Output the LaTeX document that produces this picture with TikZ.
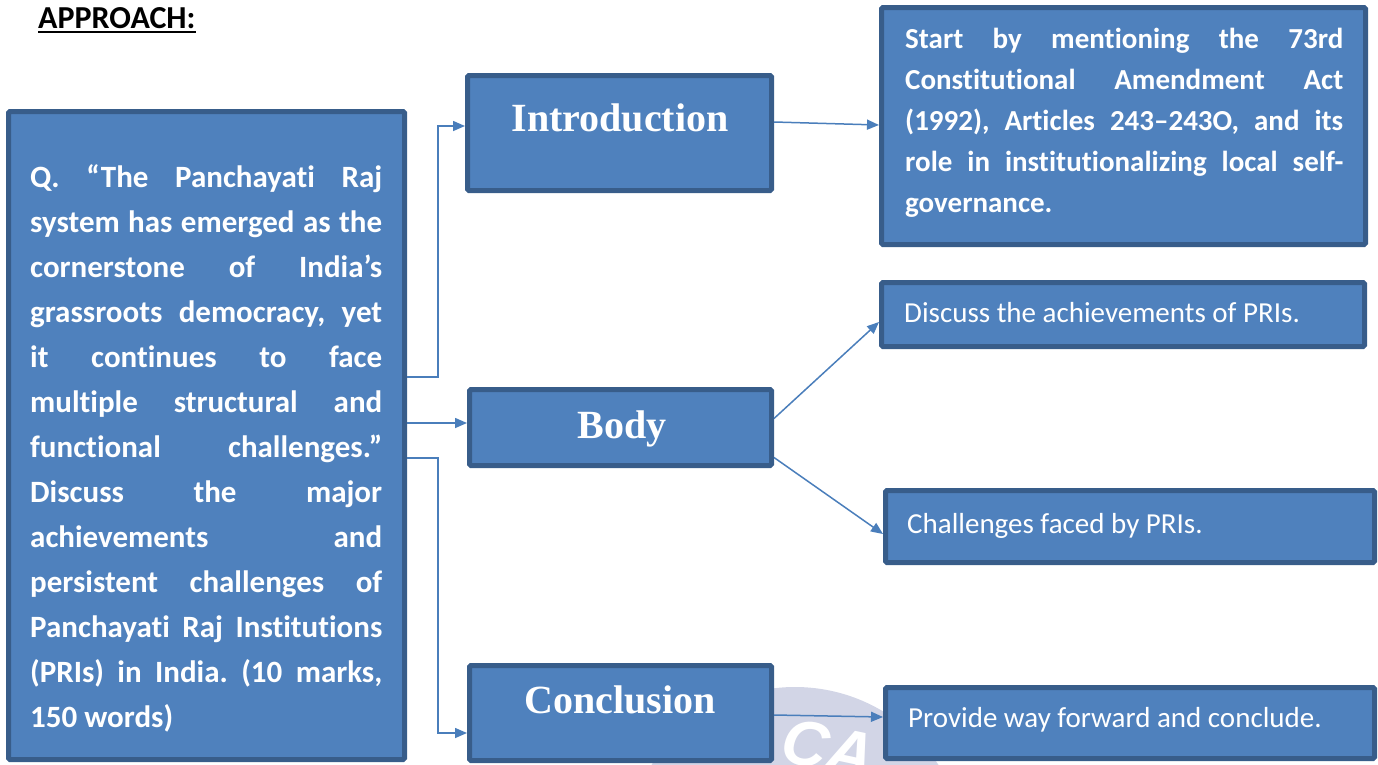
\documentclass[tikz,border=0pt]{standalone}
\usepackage{fontspec}
\setmainfont{Carlito}[RawFeature={-liga;-clig;-calt}]
\newfontfamily\headfont{Liberation Serif}
\newfontfamily\wmfont{Liberation Sans}
\usetikzlibrary{arrows.meta,calc}
\definecolor{boxfill}{HTML}{4F81BD}
\definecolor{boxline}{HTML}{385D8A}
\definecolor{arrowcol}{HTML}{4A7EBB}
\definecolor{wmcol}{HTML}{D2D5E6}
\tolerance=9999
\hbadness=10000
\frenchspacing
\tikzset{
  box/.style={draw=boxline, fill=boxfill, line width=5pt, rounded corners=1.5pt, inner sep=0pt},
  conn/.style={draw=arrowcol, line width=1.5pt, -{Triangle[length=12pt,width=10pt]}},
  hdtext/.style={text=white, font=\headfont\bfseries\fontsize{40}{48}\selectfont, anchor=base, inner sep=0pt},
  bdtext/.style={text=white, font=\fontsize{29}{35}\selectfont, anchor=base west, inner sep=0pt},
  jtext/.style={text=white, anchor=base west, inner sep=0pt, align=justify},
}
\begin{document}
\begin{tikzpicture}[x=1pt,y=-1pt]
\useasboundingbox (0,0) rectangle (1378,764);
\clip (0,0) rectangle (1378,764);

% faint watermark
\fill[wmcol] (795,858) circle (171);
\node[text=white, font=\wmfont\bfseries\itshape\fontsize{64}{64}\selectfont, anchor=base west, inner sep=0pt, rotate=-12] (wm) at (778,760) {CA};

% title
\node[font=\bfseries\fontsize{32}{36}\selectfont, anchor=base west, inner sep=0pt] (title) at (38,28) {APPROACH:};
\draw[line width=2pt] ($(title.base west)+(0,4)$) -- ($(title.base east)+(0,4)$);

% boxes
\node[box, minimum width=396pt, minimum height=648pt] (q) at (206.5,435.5) {};
\node[box, minimum width=304pt, minimum height=115pt] (intro) at (619.5,133) {};
\node[box, minimum width=302pt, minimum height=76pt] (body) at (620.5,427.5) {};
\node[box, minimum width=302pt, minimum height=95pt] (concl) at (620.5,713) {};
\node[box, minimum width=484pt, minimum height=237pt] (introtxt) at (1123.5,126) {};
\node[box, minimum width=483pt, minimum height=64pt] (disc) at (1123,314.5) {};
\node[box, minimum width=489pt, minimum height=72pt] (chal) at (1130,526.5) {};
\node[box, minimum width=489pt, minimum height=71pt] (prov) at (1130,723) {};

% texts
\node[jtext, text width=352pt, font=\bfseries\fontsize{31}{45}\selectfont] (qt) at (30,187) {Q. “The Panchayati Raj\linebreak
system has emerged as the\linebreak
cornerstone of India’s\linebreak
grassroots democracy, yet\linebreak
it continues to face\linebreak
multiple structural and\linebreak
functional challenges.”\linebreak
Discuss the major\linebreak
achievements and\linebreak
persistent challenges of\linebreak
Panchayati Raj Institutions\linebreak
(PRIs) in India. (10 marks,\linebreak
150 words)};

\node[hdtext] (introlbl) at (620,131) {Introduction};
\node[hdtext] (bodylbl) at (622,438) {Body};
\node[hdtext] (concllbl) at (620,713) {Conclusion};

\node[jtext, text width=438pt, font=\bfseries\fontsize{29}{41}\selectfont] (it) at (905,48) {Start by mentioning the 73rd\linebreak
Constitutional Amendment Act\linebreak
(1992), Articles 243–243O, and its\linebreak
role in institutionalizing local self-\linebreak
governance.};

\node[bdtext] (disclbl) at (904,322) {Discuss the achievements of PRIs.};
\node[bdtext] (challbl) at (907,533) {Challenges faced by PRIs.};
\node[bdtext] (provlbl) at (908,727) {Provide way forward and conclude.};

% connectors
\draw[conn] ($(q.east)+(0,-58.5)$) -- ++(31,0) |- ($(intro.west)+(0,-7)$);
\draw[conn] ($(q.east)+(0,-12.5)$) -- ($(q.east -| body.west)+(0,-12.5)$);
\draw[conn] ($(q.east)+(0,22.5)$) -- ++(31,0) |- ($(concl.west)+(0,20)$);
\draw[conn] ($(intro.east)+(0,-11)$) -- ($(introtxt.west)+(0,-1)$);
\draw[conn] ($(body.east)+(0,-9)$) -- ($(disc.west)+(0,7.5)$);
\draw[conn] ($(body.east)+(0,30)$) -- ($(chal.west)+(0,7.5)$);
\draw[conn] ($(concl.east)+(0,2)$) -- ($(prov.west)+(0,-6)$);
\end{tikzpicture}
\end{document}
